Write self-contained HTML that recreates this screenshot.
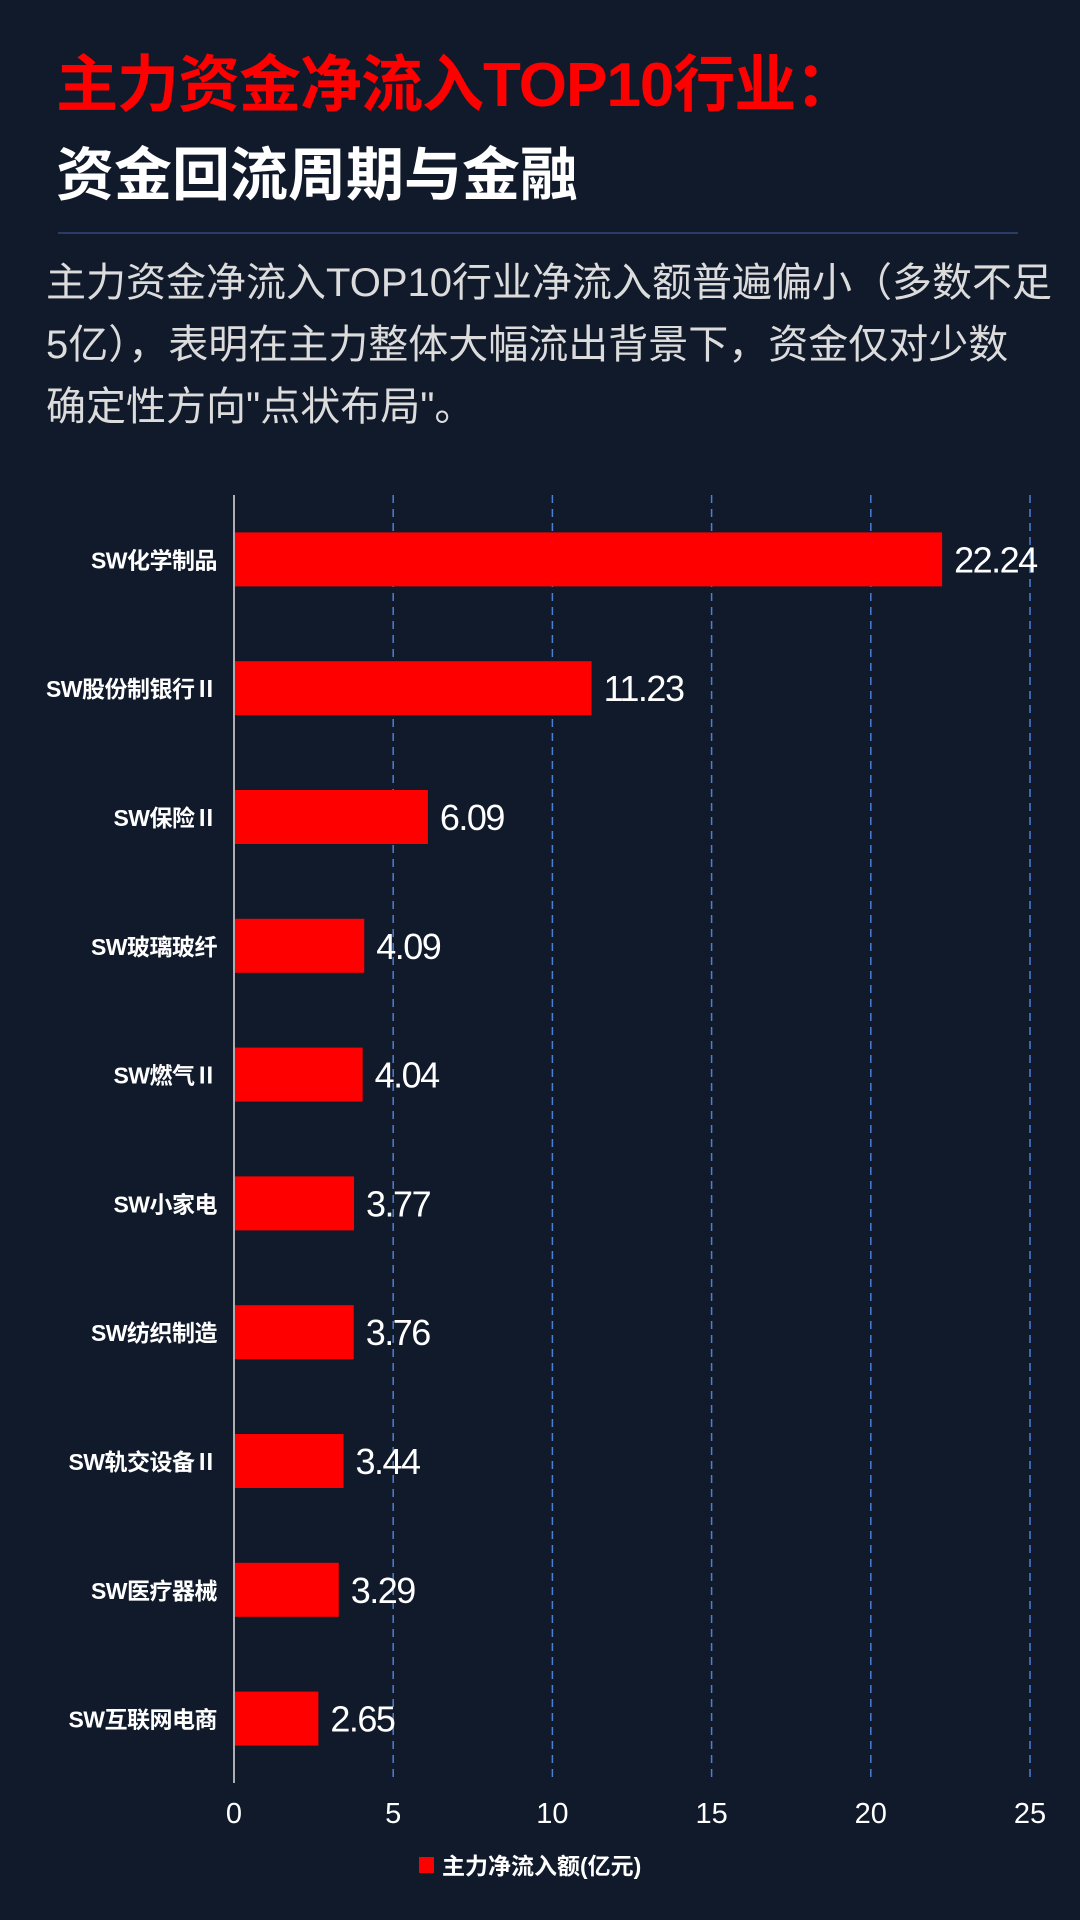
<!DOCTYPE html>
<html><head><meta charset="utf-8"><style>
body{margin:0;width:1080px;height:1920px;background:#111a2b;overflow:hidden;font-family:"Liberation Sans","Noto Sans CJK SC",sans-serif;position:relative}
.t1{position:absolute;left:56px;top:34px;font-size:62px;font-weight:bold;color:#ff0000;white-space:nowrap;letter-spacing:-1px}
.t2{position:absolute;left:56px;top:128px;font-size:58px;font-weight:bold;color:#fff;white-space:nowrap}
.hr{position:absolute;left:58px;top:232px;width:960px;height:2px;background:#2a3c66}
.p{position:absolute;left:46px;top:252px;font-size:40px;line-height:62px;color:#dcdcdc;white-space:nowrap}
</style></head><body>
<div class="t1">主力资金净流入TOP10行业：</div>
<div class="t2">资金回流周期与金融</div>
<div class="hr"></div>
<div class="p">主力资金净流入TOP10行业净流入额普遍偏小（多数不足<br>5亿），表明在主力整体大幅流出背景下，资金仅对少数<br>确定性方向"点状布局"。</div>
<svg id="chart" width="1080" height="1920" style="position:absolute;left:0;top:0"></svg>
<script>
const categories=["SW化学制品","SW股份制银行Ⅱ","SW保险Ⅱ","SW玻璃玻纤","SW燃气Ⅱ","SW小家电","SW纺织制造","SW轨交设备Ⅱ","SW医疗器械","SW互联网电商"];
const values=[22.24,11.23,6.09,4.09,4.04,3.77,3.76,3.44,3.29,2.65];
const ticks=[0,5,10,15,20,25];
const NS="http://www.w3.org/2000/svg";
const svg=document.getElementById('chart');
const x0=234,x1=1030,yTop=495,yBot=1783;
const xs=v=>x0+(v/25)*(x1-x0);
const band=(yBot-yTop)/categories.length;
const yc=i=>yTop+band*(i+0.5);
function mk(t,a){const e=document.createElementNS(NS,t);for(const k in a)e.setAttribute(k,a[k]);svg.appendChild(e);return e;}
ticks.forEach(t=>{
 if(t>0){const l=mk('line',{x1:xs(t),x2:xs(t),y1:yTop,y2:yBot,stroke:'#4a7fd6','stroke-width':1.5,'stroke-dasharray':'8,6'});
 
 }
 const tx=mk('text',{x:xs(t),y:1823,'text-anchor':'middle',fill:'#fff','font-size':29});
 tx.textContent=t;
 
 
});
const ax=mk('line',{x1:x0,x2:x0,y1:yTop,y2:yBot,stroke:'#e0e0e0','stroke-width':1.5});


categories.forEach((c,i)=>{
 const y=yc(i);
 const r=mk('rect',{x:x0+1,y:y-27,width:xs(values[i])-x0-1,height:54,fill:'#ff0000'});
 
 
 const lb=mk('text',{x:217,y:y+9,'text-anchor':'end',fill:'#fff','font-size':23,'font-weight':'bold','letter-spacing':'-0.5'});
 lb.textContent=c;
 
 
 const vl=mk('text',{x:xs(values[i])+12,y:y+13,fill:'#fff','font-size':36,'letter-spacing':'-1.5'});
 vl.textContent=values[i].toFixed(2);
 
 
});
const lg=mk('rect',{x:419,y:1857,width:15,height:16,fill:'#ff0000'});


const lt=mk('text',{x:442,y:1874,fill:'#fff','font-size':23,'font-weight':'bold'});
lt.textContent='主力净流入额(亿元)';


</script>
</body></html>
